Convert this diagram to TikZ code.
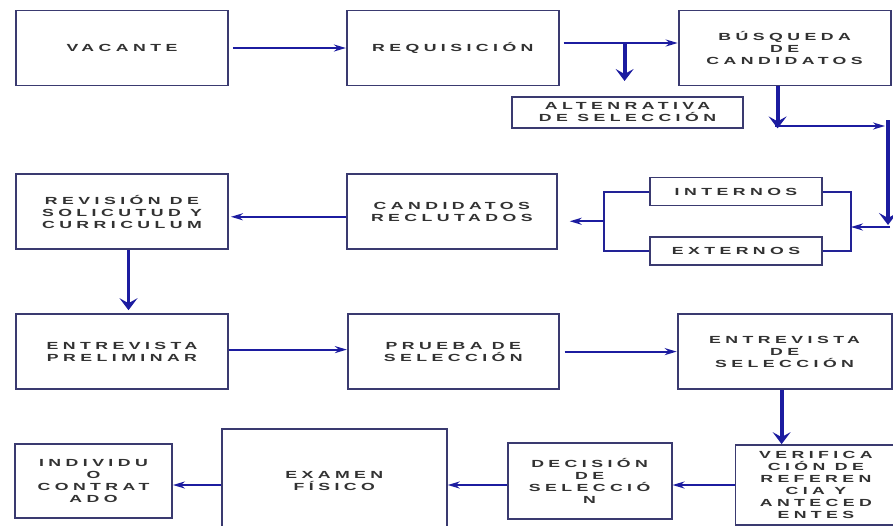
\documentclass[tikz,border=0pt]{standalone}
\usepackage{fontspec}
\setmainfont{Liberation Sans}
\usetikzlibrary{positioning, arrows.meta, calc}
\usepackage{xcolor}
\definecolor{linea}{RGB}{28,28,160}
\definecolor{borde}{RGB}{58,58,112}
\definecolor{letra}{RGB}{50,50,50}

\begin{document}
\begin{tikzpicture}[x=1pt, y=-1pt,
    caja/.style={draw=borde, line width=1.8pt, minimum width=212pt, minimum height=75pt,
        align=center, text=letra, inner sep=2pt,
        font=\bfseries\fontsize{10.3}{12}\selectfont\addfontfeature{FakeStretch=1.72, LetterSpace=43}},
    chica/.style={caja, minimum height=28pt, minimum width=172pt},
    flecha/.style={draw=linea, line width=2pt, -{Stealth[length=12pt, width=7pt]}},
    gruesa/.style={draw=linea, line width=3.8pt, -{Stealth[length=12pt, width=18pt, inset=5pt]}},
    corchete/.style={draw=linea!80!borde, line width=2pt}]
    \useasboundingbox (0,0) rectangle (893,525);

    \node[caja] (vac) at (122,48) {VACANTE};
    \node[caja] (req) [right=117pt of vac] {REQUISICIÓN};
    \node[caja] (busq) [right=118pt of req] {BÚSQUEDA\\DE\\CANDIDATOS};
    \node[caja, minimum width=231pt, minimum height=31pt] (alt) at (627.5,112.5) {ALTENRATIVA\\DE SELECCIÓN};

    \node[caja] (rev) [below=87pt of vac] {REVISIÓN DE\\SOLICUTUD Y\\CURRICULUM};
    \node[caja, minimum width=210pt] (cand) [right=117pt of rev] {CANDIDATOS\\RECLUTADOS};
    \node[chica] (int) at (736,191.5) {INTERNOS};
    \node[chica] (ext) at (736,251) {EXTERNOS};

    \node[caja] (prel) [below=63pt of rev] {ENTREVISTA\\PRELIMINAR};
    \node[caja, minimum width=211pt] (prue) [right=118pt of prel] {PRUEBA DE\\SELECCIÓN};
    \node[caja, minimum width=214pt] (esel) [right=117pt of prue] {ENTREVISTA\\DE\\SELECCIÓN};

    \node[caja, minimum width=157pt, minimum height=74pt] (indiv) at (93.5,481) {INDIVIDU\\O\\CONTRAT\\ADO};
    \node[caja, minimum width=225pt, minimum height=104pt] (exam) [right=48pt of indiv] {EXAMEN\\FÍSICO};
    \node[caja, minimum width=164pt, minimum height=76pt] (dec) [right=59pt of exam] {DECISIÓN\\DE\\SELECCIÓ\\N};
    \node[caja, minimum width=161pt, minimum height=80pt] (ver) [right=62pt of dec, yshift=-4pt] {VERIFICA\\CIÓN DE\\REFEREN\\CIA Y\\ANTECED\\ENTES};

    \coordinate (m1) at ($([yshift=5pt]req.east)!0.55!([yshift=5pt]busq.west)$);
    \coordinate (b1) at ([xshift=-7pt]busq.south);
    \coordinate (c1) at (775,126);
    \coordinate (c2) at (885,126);
    \coordinate (c3) at (888,120);
    \coordinate (c4) at (888,225);
    \coordinate (c5) at (890,227);

    \draw[corchete] (int.east) -- ++(28,0) coordinate (bd) |- (ext.east);
    \draw[corchete] (int.west) -- ++(-45,0) coordinate (bi) |- (ext.west);
    \coordinate (bm) at ($(bi)!0.5!(bi |- ext.west)$);

    \draw[flecha, shorten <=4pt] (vac.east) -- (vac.east -| req.west);
    \draw[flecha, shorten <=4pt] ([yshift=5pt]req.east) -- ([yshift=5pt]req.east -| busq.west);
    \draw[gruesa] (m1) -- ++(0,38);
    \draw[gruesa] (b1) -- ++(0,42);
    \draw[flecha] (c1) -- (c2);
    \draw[gruesa] (c3) -- (c4);
    \draw[flecha] (c5) -- (c5 -| bd);
    \draw[flecha, shorten >=12pt] (bm) -- (bm -| cand.east);
    \draw[flecha, shorten >=2pt] ([yshift=-5pt]cand.west) -- ([yshift=-5pt]cand.west -| rev.east);
    \draw[gruesa, shorten >=3pt] ([xshift=6.5pt]rev.south) -- ([xshift=6.5pt]rev.south |- prel.north);
    \draw[flecha] ([yshift=2pt]prel.east) -- ([yshift=2pt]prel.east -| prue.west);
    \draw[flecha, shorten <=5pt] (prue.east) -- (prue.east -| esel.west);
    \draw[gruesa] ([xshift=-3pt]esel.south) -- ([xshift=-3pt]esel.south |- ver.north);
    \draw[flecha] (ver.west) -- (ver.west -| dec.east);
    \draw[flecha] (ver.west -| dec.west) -- (ver.west -| exam.east);
    \draw[flecha] (ver.west -| exam.west) -- (ver.west -| indiv.east);
\end{tikzpicture}
\end{document}
